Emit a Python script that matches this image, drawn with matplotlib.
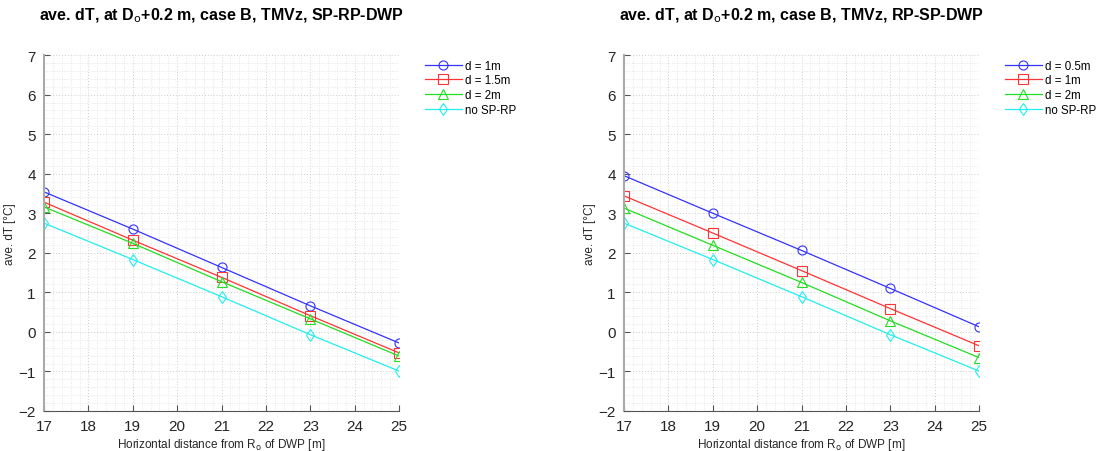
import matplotlib
matplotlib.use("Agg")
import matplotlib.pyplot as plt
from matplotlib.ticker import MultipleLocator

plt.rcParams['font.family'] = ['Liberation Sans', 'DejaVu Sans']

x = [17, 19, 21, 23, 25]

# SP-RP-DWP arrangement
left_labels = ["d = 1m", "d = 1.5m", "d = 2m", "no SP-RP"]
left_d1 = [3.54, 2.60, 1.63, 0.66, -0.28]
left_d15 = [3.28, 2.32, 1.38, 0.41, -0.53]
left_d2 = [3.16, 2.24, 1.27, 0.33, -0.61]
no_sprp = [2.75, 1.83, 0.89, -0.07, -0.99]

# RP-SP-DWP arrangement
right_labels = ["d = 0.5m", "d = 1m", "d = 2m", "no SP-RP"]
right_d05 = [3.95, 3.00, 2.06, 1.10, 0.13]
right_d1 = [3.44, 2.50, 1.55, 0.59, -0.35]
right_d2 = [3.13, 2.19, 1.25, 0.28, -0.65]

titles = ["ave. dT, at D$_{\\rm o}$+0.2 m, case B, TMVz, SP-RP-DWP",
          "ave. dT, at D$_{\\rm o}$+0.2 m, case B, TMVz, RP-SP-DWP"]

colors = ["#3333ff", "#ff3333", "#22dd22", "#22eeee"]
markers = ["o", "s", "^", "d"]

fig = plt.figure(figsize=(11.06, 4.52), dpi=100)
ax1 = fig.add_axes([0.0398, 0.0885, 0.321, 0.7875])
ax2 = fig.add_axes([0.5642, 0.0885, 0.321, 0.7875])

panels = [
    (ax1, [left_d1, left_d15, left_d2, no_sprp], left_labels, titles[0]),
    (ax2, [right_d05, right_d1, right_d2, no_sprp], right_labels, titles[1]),
]

for ax, series, labels, title in panels:
    for ys, lab, c, m in zip(series, labels, colors, markers):
        ax.plot(x, ys, color=c, marker=m, markersize=6.5, markerfacecolor='none',
                markeredgewidth=0.8, linewidth=0.9, label=lab)
    ax.set_xlim(17, 25)
    ax.set_ylim(-2, 7)
    ax.xaxis.set_major_locator(MultipleLocator(1))
    ax.yaxis.set_major_locator(MultipleLocator(1))
    ax.xaxis.set_minor_locator(MultipleLocator(0.2))
    ax.yaxis.set_minor_locator(MultipleLocator(0.2))
    ax.grid(which='major', color='#cccccc', linestyle=(0, (1, 2)), linewidth=0.7)
    ax.grid(which='minor', color='#dddddd', linestyle=(0, (1, 2)), linewidth=0.6)
    ax.set_axisbelow(True)
    ax.spines['top'].set_visible(False)
    ax.spines['right'].set_visible(False)
    ax.spines['left'].set_color('#aaaaaa')
    ax.spines['left'].set_linewidth(1.5)
    ax.spines['bottom'].set_color('#555555')
    ax.tick_params(which='major', direction='in', length=4, labelsize=11,
                   colors='#555555', labelcolor='#262626', pad=6)
    ax.tick_params(which='minor', length=0)
    ax.set_title(title, fontsize=11.5, fontweight='bold', pad=26)
    ax.set_xlabel("Horizontal distance from R$_{\\rm o}$ of DWP [m]",
                  fontsize=8.5, color='#262626', labelpad=2)
    ax.set_ylabel("ave. dT [\u00b0C]", fontsize=8.5, color='#262626', labelpad=2)
    ax.legend(loc='upper left', bbox_to_anchor=(1.05, 1.01), frameon=False,
              fontsize=8.3, handlelength=3.2, borderaxespad=0.3,
              labelspacing=0.25, handletextpad=0.3)

fig.savefig("out.png", dpi=100)
